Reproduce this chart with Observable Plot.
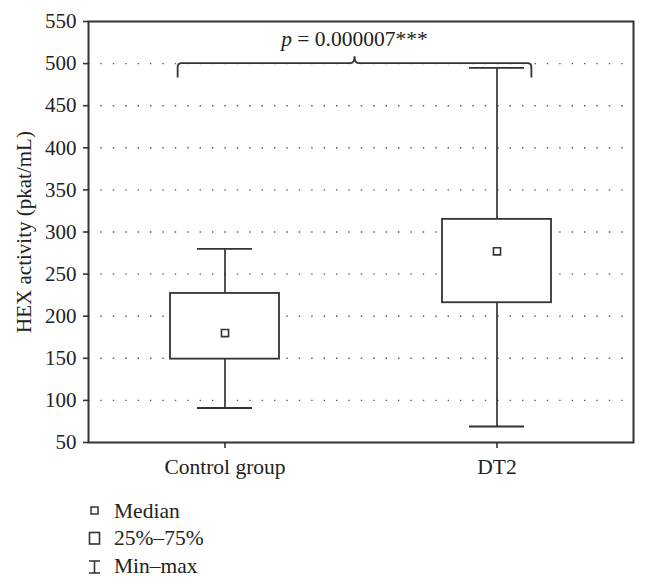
<!DOCTYPE html>
<html><head><meta charset="utf-8">
<script src="https://cdn.jsdelivr.net/npm/d3@7"></script>
<script src="https://cdn.jsdelivr.net/npm/@observablehq/plot@0.6"></script>
<style>body{margin:0;background:#fff;} svg{display:block;}</style>
</head><body><div id="chart"></div>
<script>
const groups = ["Control group", "DT2"];
const minimums = [91, 69];
const lowerQuartiles = [149, 216];
const medians = [180, 277];
const upperQuartiles = [227, 315];
const maximums = [280, 495];
const yTicks = [50, 100, 150, 200, 250, 300, 350, 400, 450, 500, 550];
const gridTicks = [100, 150, 200, 250, 300, 350, 400, 450, 500];
const yLabel = "HEX activity (pkat/mL)";
const pSymbol = "p";
const pValueText = "= 0.000007***";
const bracketLevel = 500, bracketEnd = 483, bracketPeak = 508, annotationLevel = 520;
const legendLabels = ["Median", "25%–75%", "Min–max"];

const ink = "#333";
const font = "'Liberation Serif', 'DejaVu Serif', serif";

const rows = groups.map((g, i) => ({
  group: g, min: minimums[i], q1: lowerQuartiles[i], median: medians[i], q3: upperQuartiles[i], max: maximums[i]
}));

function bracketMark(index, scales) {
  const x = scales.x, y = scales.y, bw = x.bandwidth();
  const L = x(groups[0]) + 0.07 * bw, R = x(groups[1]) + 0.82 * bw, M = (L + R) / 2;
  const yb = y(bracketLevel), ye = y(bracketEnd), yp = y(bracketPeak);
  const r = 4;
  const d = `M${L},${ye} L${L},${yb + r} Q${L},${yb} ${L + r},${yb} L${M - 4},${yb} Q${M},${yb} ${M},${yp} Q${M},${yb} ${M + 4},${yb} L${R - r},${yb} Q${R},${yb} ${R},${yb + r} L${R},${ye}`;
  const g = d3.create("svg:g");
  g.append("path").attr("d", d).attr("fill", "none").attr("stroke", ink).attr("stroke-width", 1.8);
  const t = g.append("text").attr("x", M).attr("y", y(annotationLevel))
    .attr("text-anchor", "middle").attr("font-size", 21.5).attr("fill", "#222").attr("font-family", font);
  t.append("tspan").attr("font-style", "italic").text(pSymbol);
  t.append("tspan").text(" " + pValueText);
  return g.node();
}

const chart = Plot.plot({
  width: 648,
  height: 490,
  marginLeft: 88,
  marginRight: 15,
  marginTop: 21,
  marginBottom: 48,
  style: {fontFamily: font, fontSize: "21px", color: "#222", background: "#fff"},
  x: {type: "band", domain: groups, paddingInner: 0.6, paddingOuter: 0.3},
  y: {domain: [50, 550]},
  marks: [
    Plot.gridY(gridTicks, {stroke: "#555", strokeOpacity: 1, strokeWidth: 1.4, strokeDasharray: "1.4,11"}),
    Plot.ruleX(rows, {x: "group", y1: "min", y2: "max", stroke: ink, strokeWidth: 1.7}),
    Plot.tickY(rows, {x: "group", y: "min", stroke: ink, strokeWidth: 1.8, insetLeft: 27, insetRight: 27}),
    Plot.tickY(rows, {x: "group", y: "max", stroke: ink, strokeWidth: 1.8, insetLeft: 27, insetRight: 27}),
    Plot.barY(rows, {x: "group", y1: "q1", y2: "q3", fill: "#fff", stroke: ink, strokeWidth: 1.8}),
    Plot.dot(rows, {x: "group", y: "median", symbol: "square", r: 4, fill: "#fff", stroke: ink, strokeWidth: 1.6}),
    Plot.frame({stroke: ink, strokeWidth: 2}),
    Plot.axisX({tickSize: 6, tickPadding: 10, fontSize: 21.5, stroke: ink, strokeWidth: 1.6, label: null}),
    Plot.axisY({ticks: yTicks, tickSize: 5, tickPadding: 7, fontSize: 21, stroke: ink, strokeWidth: 1.6, label: null}),
    Plot.text([yLabel], {frameAnchor: "left", text: d => d, rotate: -90, dx: -72, textAnchor: "middle", lineAnchor: "top", fontSize: 21, fill: "#222"}),
    bracketMark
  ]
});
document.getElementById("chart").appendChild(chart);

// Legend below the plot
const legend = d3.create("svg").attr("width", 648).attr("height", 96)
  .style("font-family", font).style("font-size", "21.5px");
const baselines = [28, 55, 83];
legendLabels.forEach((label, i) => {
  legend.append("text").attr("x", 114).attr("y", baselines[i]).attr("fill", "#222").text(label);
});
// median symbol
legend.append("rect").attr("x", 91).attr("y", 17).attr("width", 7).attr("height", 7)
  .attr("fill", "#fff").attr("stroke", ink).attr("stroke-width", 1.5);
// box symbol
legend.append("rect").attr("x", 89.5).attr("y", 42.5).attr("width", 10).attr("height", 11.5)
  .attr("fill", "#fff").attr("stroke", ink).attr("stroke-width", 1.6);
// min-max symbol
legend.append("path").attr("d", "M89,71 H100 M94.5,71 V83 M89,83 H100")
  .attr("fill", "none").attr("stroke", ink).attr("stroke-width", 1.6);
document.getElementById("chart").appendChild(legend.node());
</script>
</body></html>
